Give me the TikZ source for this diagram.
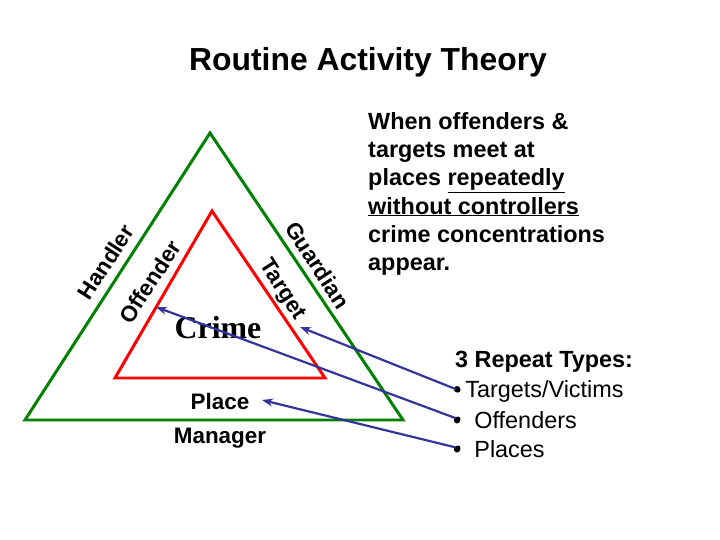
\documentclass[tikz,border=0pt]{standalone}
\usepackage{fontspec}
\setmainfont{Liberation Sans}
\newfontfamily\crimefont{Liberation Serif}
\usetikzlibrary{arrows.meta}
\begin{document}
\begin{tikzpicture}[x=1bp,y=-1bp,
  lbl/.style={font=\bfseries\fontsize{22.5}{26}\selectfont, inner sep=0pt},
  rpt/.style={font=\fontsize{23.5}{26}\selectfont, anchor=west, inner sep=0pt},
  conn/.style={draw=blue!50!black!80, line width=2.2pt, -{Stealth[length=11pt,width=8pt]}},
  dotc/.style={circle, fill=black, inner sep=0pt, minimum size=5pt}]
\useasboundingbox (0,0) rectangle (720,540);
\node[font=\bfseries\fontsize{32}{36}\selectfont] (title) at (368,62) {Routine Activity Theory};
\draw[green!50!black, line width=3pt] (210,133) -- (403,420) -- (25,420) -- cycle;
\draw[red, line width=3pt] (212,211) -- (325,378) -- (115,378) -- cycle;
\node[lbl, anchor=north west, align=left, font=\bfseries\fontsize{23.5}{28.4}\selectfont] (txt) at (368,112)
 {When offenders \&\\ targets meet at\\ places \underline{repeatedly}\\ \underline{without controllers}\\ crime concentrations\\ appear.};
\node[lbl, rotate=57] (handler) at (106,262) {Handler};
\node[lbl, rotate=57] (offender) at (150,282) {Offender};
\node[lbl, rotate=-57] (guardian) at (318,265) {Guardian};
\node[lbl, rotate=-57] (target) at (282,290) {Target};
\node[font=\crimefont\bfseries\fontsize{32}{36}\selectfont] (crime) at (218,328) {Crime};
\node[lbl] (place) at (220,401) {Place};
\node[lbl] (manager) at (220,438) {Manager};
\node[rpt, font=\bfseries\fontsize{23.5}{26}\selectfont] (types) at (455,362) {3 Repeat Types:};
\node[rpt] (t1) at (453,391) {\textbullet\,Targets/Victims};
\node[rpt] (t2) at (453,420) {\textbullet\ \ Offenders};
\node[rpt] (t3) at (453,449) {\textbullet\ \ Places};
\node[dotc] (d1) at (458,390) {};
\node[dotc] (d2) at (458,419) {};
\node[dotc] (d3) at (458,448) {};
\coordinate (e1) at (300,327);
\coordinate (e2) at (156,307);
\coordinate (e3) at (262,400);
\draw[conn] (d1) -- (e1);
\draw[conn] (d2) -- (e2);
\draw[conn] (d3) -- (e3);
\end{tikzpicture}
\end{document}
